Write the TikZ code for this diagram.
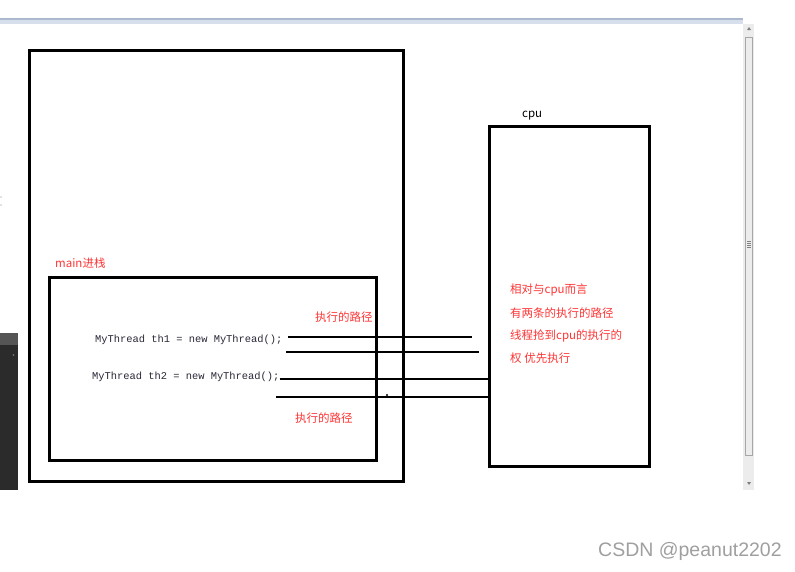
\documentclass[tikz,border=0pt]{standalone}
\usepackage{fontspec}
\usepackage{xcolor}
\usepackage{tikz}
\usetikzlibrary{positioning}
\newfontfamily\cjk{Noto Sans CJK SC}
\newfontfamily\codefont{Liberation Mono}
\newfontfamily\markfont{Liberation Sans}
\definecolor{notered}{RGB}{255,52,52}
\definecolor{codegray}{RGB}{40,40,55}
\definecolor{barblue}{RGB}{214,223,235}
\definecolor{barline}{RGB}{170,185,205}
\definecolor{scrollgray}{RGB}{236,236,236}
\definecolor{darkpanel}{RGB}{43,43,43}

\begin{document}
\begin{tikzpicture}[x=1pt, y=-1pt,
    box/.style={draw=black, line width=2.6pt},
    path/.style={line width=2.6pt},
    note/.style={font=\cjk\fontsize{11.5}{13}\selectfont, text=notered, anchor=west, inner sep=0pt},
    code/.style={font=\codefont\fontsize{10.4}{12}\selectfont, text=codegray, anchor=west, inner sep=0pt}]
  \useasboundingbox (0,0) rectangle (795,571);

  % ===== Window frame =====
  \fill[barblue] (0,18) rectangle (743,24);
  \draw[barline, line width=1.2pt] (0,19) -- (743,19);
  % scrollbar
  \fill[scrollgray] (743,24) rectangle (754,490);
  \draw[gray!70, fill=gray!15] (745.5,37) rectangle (752.5,455);
  \foreach \yy in {241,243,245,247} \draw[gray] (747,\yy) -- (751,\yy);
  \fill[gray] (747,30) -- (751,30) -- (749,27) -- cycle;
  \fill[gray] (747,482) -- (751,482) -- (749,485) -- cycle;
  % editor panel on the left
  \fill[darkpanel] (0,333) rectangle (18,490);
  \fill[darkpanel!80!white] (0,333) rectangle (18,345);
  \fill[gray] (13.5,355) circle (0.8);
  \fill[gray] (1,197) circle (0.7);
  \fill[gray] (1,205) circle (0.7);

  % ===== Stack boxes =====
  \node[box, minimum width=374, minimum height=431, anchor=north west, inner sep=0pt] (outer) at (28,49) {};
  \node[box, minimum width=327, minimum height=183, anchor=north west, inner sep=0pt] (stack) at (48,276) {};
  \node[note, anchor=south west] (stacklbl) at (55,269) {main进栈};

  % ===== CPU =====
  \node[box, minimum width=160, minimum height=340, anchor=north west, inner sep=0pt] (cpu) at (488,125) {};
  \node[font=\cjk\fontsize{11.5}{13}\selectfont, anchor=south west, inner sep=0pt] (cpulbl) at (522,120) {cpu};
  \node[note] (c1) at (510,290) {相对与cpu而言};
  \node[note] (c2) at (510,313) {有两条的执行的路径};
  \node[note] (c3) at (510,336) {线程抢到cpu的执行的};
  \node[note] (c4) at (510,358) {权 优先执行};

  % ===== Threads =====
  \node[code] (th1) at (95,340) {MyThread th1 = new MyThread();};
  \node[code] (th2) at (92,377) {MyThread th2 = new MyThread();};

  % execution paths
  \coordinate (p1a) at (288,337);  \coordinate (p1b) at (472,337);
  \coordinate (p2a) at (286,352);  \coordinate (p2b) at (479,352);
  \coordinate (p3a) at (th2.east); \coordinate (p3b) at (cpu.west |- 0,379);
  \coordinate (p4a) at (276,397);  \coordinate (p4b) at (cpu.west |- 0,397);
  \draw[path] (p1a) -- (p1b);
  \draw[path] (p2a) -- (p2b);
  \draw[path] (p3a |- 0,379) -- (p3b);
  \draw[path] (p4a) -- (p4b);
  \fill (387,395) circle (1.2);

  \node[note] (path1) at (315,317) {执行的路径};
  \node[note] (path2) at (295,418) {执行的路径};

  % watermark
  \node[font=\markfont\fontsize{19.5}{21}\selectfont, text=gray!75, anchor=west, inner sep=0pt] (mark) at (598,551) {CSDN @peanut2202};
\end{tikzpicture}
\end{document}
